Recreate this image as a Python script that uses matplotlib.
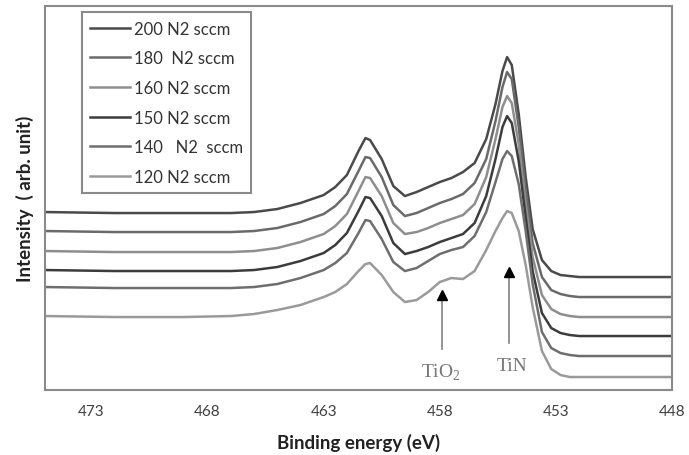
import numpy as np
import matplotlib
matplotlib.use('Agg')
import matplotlib.pyplot as plt

plt.rcParams['font.family'] = ['Lato', 'DejaVu Sans']

# binding energy grid (eV)
energy = [475, 472, 469, 467, 466, 465, 464, 463, 462.5, 462, 461.5, 461.2, 461,
          460.5, 460, 459.5, 459, 458.5, 458, 457.5, 457, 456.5, 456, 455.6, 455.3,
          455.1, 454.9, 454.6, 454.3, 454, 453.6, 453.2, 452.8, 452.4, 452, 451, 450,
          449, 448]

# intensity (arb. unit), one list per N2 flow
i200 = [187, 186, 186, 186, 187, 190, 196, 204, 212, 224, 248, 261, 259, 240, 213,
        203, 207, 212, 217, 221, 227, 236, 260, 295, 328, 342, 334, 285, 222, 170,
        139, 128, 124, 123, 122, 122, 122, 122, 122]
i180 = [168, 167, 167, 167, 168, 171, 177, 185, 193, 205, 228, 242, 241, 222, 194,
        183, 186, 191, 196, 200, 205, 216, 240, 278, 312, 327, 320, 272, 210, 156,
        122, 109, 105, 103, 102, 102, 102, 102, 102]
i160 = [148, 147, 147, 147, 148, 151, 157, 165, 173, 185, 208, 222, 221, 203, 176,
        165, 167, 171, 176, 180, 184, 195, 222, 260, 292, 303, 296, 255, 195, 142,
        104, 90, 85, 83, 82, 82, 82, 82, 82]
i150 = [129, 128, 128, 128, 129, 132, 138, 146, 154, 166, 188, 202, 201, 183, 156,
        145, 148, 152, 157, 161, 165, 176, 203, 240, 272, 283, 276, 238, 182, 128,
        86, 71, 66, 64, 63, 63, 63, 63, 63]
i140 = [112, 111, 111, 111, 112, 115, 121, 129, 136, 146, 166, 179, 178, 160, 137,
        128, 131, 138, 145, 149, 152, 163, 187, 217, 240, 248, 243, 215, 168, 115,
        67, 51, 46, 44, 43, 43, 43, 43, 43]
i120 = [83, 82, 82, 83, 85, 89, 94, 102, 107, 115, 128, 135, 136, 124, 107,
        97, 99, 107, 117, 121, 120, 128, 149, 168, 181, 188, 186, 168, 134, 92,
        48, 30, 24, 22, 22, 22, 22, 22, 22]

labels = ['200 N2 sccm', '180  N2 sccm', '160 N2 sccm', '150 N2 sccm',
          '140   N2  sccm', '120 N2 sccm']
xticks = [473, 468, 463, 458, 453, 448]

series = [i200, i180, i160, i150, i140, i120]
colors = ['#4a4a4a', '#6a6a6a', '#8e8e8e', '#3c3c3c', '#6e6e6e', '#9a9a9a']

fig = plt.figure(figsize=(6.89, 4.56), dpi=100)
ax = fig.add_axes([0.0653, 0.1425, 0.910, 0.842])

for y, c, lab in zip(series, colors, labels):
    ax.plot(energy, y, color=c, lw=1.8, label=lab)

# peak markers
ax.plot([457.9, 457.9], [50, 104], color='#808080', lw=1.2)
ax.plot([457.9], [104], marker='^', color='black', ms=7, ls='none')
ax.plot([455.0, 455.0], [56, 127], color='#808080', lw=1.2)
ax.plot([455.0], [127], marker='^', color='black', ms=7, ls='none')
ax.text(457.95, 27, r'TiO$_\mathregular{2}$', family='Liberation Serif', fontsize=14,
        color='#777777', ha='center', va='center')
ax.text(454.9, 34, 'TiN', family='Liberation Serif', fontsize=14,
        color='#777777', ha='center', va='center')

ax.set_xlim(475, 448)
ax.set_ylim(9, 393)
ax.set_xticks(xticks)
ax.set_yticks([])
ax.tick_params(axis='x', length=0, pad=10, labelsize=11, labelcolor='#404040')
for s in ax.spines.values():
    s.set_color('#8a8a8a')
    s.set_linewidth(1.5)

ax.set_xlabel('Binding energy (eV)', fontsize=13.5, fontweight='bold', color='#222222', labelpad=11)
ax.set_ylabel('Intensity  ( arb. unit)', fontsize=13.5, fontweight='bold', color='#222222', labelpad=8)

leg = ax.legend(loc='upper left', bbox_to_anchor=(0.059, 0.984), fontsize=12,
                handlelength=2.4, handletextpad=0.2, labelspacing=0.82,
                borderpad=0.5, fancybox=False, framealpha=1, borderaxespad=0)
leg.get_frame().set_edgecolor('#8a8a8a')
leg.get_frame().set_linewidth(1.5)
for t in leg.get_texts():
    t.set_color('#333333')

fig.savefig('out.png', dpi=100)
